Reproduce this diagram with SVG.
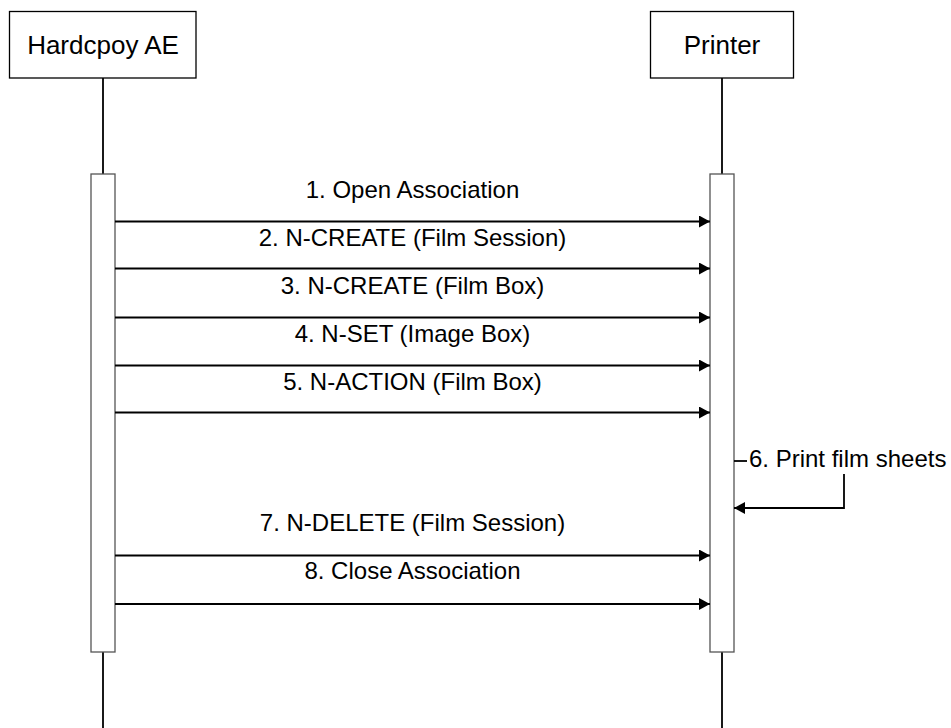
<svg xmlns="http://www.w3.org/2000/svg" width="951" height="728" viewBox="0 0 951 728">
<style>
.node{fill:#fff;stroke:#000;stroke-width:1.3}
.act{fill:#fff;stroke:#555;stroke-width:1.3}
.life{stroke:#000;stroke-width:1.8;fill:none}
.msg{stroke:#000;stroke-width:1.8;fill:none}
.nt{font-family:"Liberation Sans",Arial,sans-serif;font-size:26px;fill:#000;text-anchor:middle}
.mt{font-family:"Liberation Sans",Arial,sans-serif;font-size:24px;fill:#000;text-anchor:middle}
.st{font-family:"Liberation Sans",Arial,sans-serif;font-size:24px;fill:#000}
</style>
<defs>
<marker id="ah" markerWidth="12" markerHeight="12" refX="11" refY="6" orient="auto" markerUnits="userSpaceOnUse">
<path d="M0,0 L11,6 L0,12 Z" fill="#000"/>
</marker>
</defs>
<g id="hardcopy-ae">
<rect class="node" x="9.5" y="11.5" width="186.5" height="66.5"/>
<text class="nt" x="103" y="53.5">Hardcpoy AE</text>
<line class="life" x1="103" y1="78" x2="103" y2="174"/>
<line class="life" x1="103" y1="652" x2="103" y2="728"/>
<rect class="act" x="91" y="174" width="24" height="478"/>
</g>
<g id="printer">
<rect class="node" x="650.5" y="11.5" width="143" height="66.5"/>
<text class="nt" x="722" y="53.5">Printer</text>
<line class="life" x1="722" y1="78" x2="722" y2="174"/>
<line class="life" x1="722" y1="652" x2="722" y2="728"/>
<rect class="act" x="710" y="174" width="24" height="478"/>
</g>
<g id="connectors">
<line class="msg" x1="115" y1="221.5" x2="710" y2="221.5" marker-end="url(#ah)"/>
<line class="msg" x1="115" y1="268.5" x2="710" y2="268.5" marker-end="url(#ah)"/>
<line class="msg" x1="115" y1="317.5" x2="710" y2="317.5" marker-end="url(#ah)"/>
<line class="msg" x1="115" y1="365.5" x2="710" y2="365.5" marker-end="url(#ah)"/>
<line class="msg" x1="115" y1="412.5" x2="710" y2="412.5" marker-end="url(#ah)"/>
<line class="msg" x1="115" y1="555.5" x2="710" y2="555.5" marker-end="url(#ah)"/>
<line class="msg" x1="115" y1="604" x2="710" y2="604" marker-end="url(#ah)"/>
<line class="msg" x1="734" y1="461" x2="747" y2="461"/>
<path class="msg" d="M844,474 V508 H734" marker-end="url(#ah)"/>
</g>
<g id="labels">
<text class="mt" x="412.5" y="198">1. Open Association</text>
<text class="mt" x="412.5" y="246">2. N-CREATE (Film Session)</text>
<text class="mt" x="412.5" y="294">3. N-CREATE (Film Box)</text>
<text class="mt" x="412.5" y="342">4. N-SET (Image Box)</text>
<text class="mt" x="412.5" y="390">5. N-ACTION (Film Box)</text>
<text class="mt" x="412.5" y="531">7. N-DELETE (Film Session)</text>
<text class="mt" x="412.5" y="579">8. Close Association</text>
<text class="st" x="749" y="467">6. Print film sheets</text>
</g>
</svg>
